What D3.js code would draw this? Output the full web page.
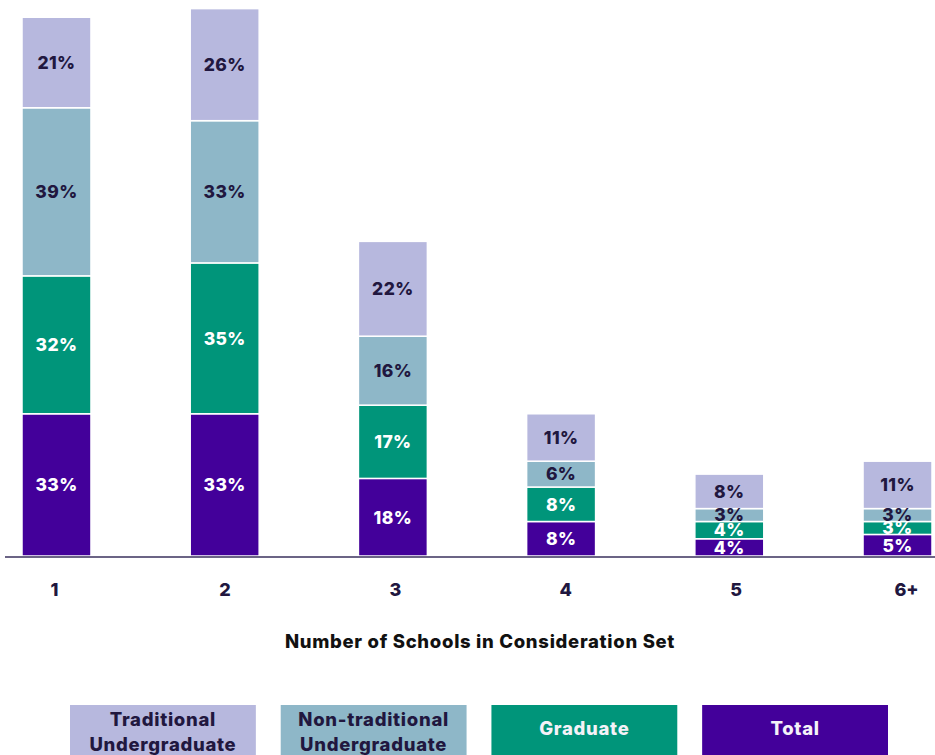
<!DOCTYPE html>
<html>
<head>
<meta charset="utf-8">
<script src="https://cdn.jsdelivr.net/npm/d3@7"></script>
<style>
  html, body { margin: 0; padding: 0; background: #ffffff; }
  svg { display: block; font-family: "Inter", "Noto Sans", sans-serif; }
</style>
</head>
<body>
<svg id="chart" width="935" height="755"></svg>
<script>
// Number of schools in each respondent's consideration set
const categories = ["1", "2", "3", "4", "5", "6+"];

// Stacked segments, bottom to top
const seriesNames = ["Total", "Graduate", "Non-traditional Undergraduate", "Traditional Undergraduate"];
const totalValues = [33, 33, 18, 8, 4, 5];
const graduateValues = [32, 35, 17, 8, 4, 3];
const nonTraditionalValues = [39, 33, 16, 6, 3, 3];
const traditionalValues = [21, 26, 22, 11, 8, 11];

const colors = {
  "Total": "#43009a",
  "Graduate": "#00957a",
  "Non-traditional Undergraduate": "#8eb7c8",
  "Traditional Undergraduate": "#b7b8de"
};
const textColors = {
  "Total": "#ffffff",
  "Graduate": "#ffffff",
  "Non-traditional Undergraduate": "#21173f",
  "Traditional Undergraduate": "#21173f"
};

const rows = categories.map((c, i) => ({
  category: c,
  "Total": totalValues[i],
  "Graduate": graduateValues[i],
  "Non-traditional Undergraduate": nonTraditionalValues[i],
  "Traditional Undergraduate": traditionalValues[i]
}));

const svg = d3.select("#chart");
const baseline = 556;

const x = d3.scaleBand()
  .domain(categories)
  .range([22, 932])
  .paddingInner(0.59)
  .paddingOuter(0);

const y = d3.scaleLinear()
  .domain([0, 129])
  .range([baseline, 0]);

const stack = d3.stack().keys(seriesNames);
const layers = stack(rows);

const groups = svg.append("g")
  .selectAll("g")
  .data(layers)
  .join("g")
  .attr("fill", d => colors[d.key]);

groups.selectAll("rect")
  .data(d => d.map(p => ({ key: d.key, p })))
  .join("rect")
  .attr("x", d => x(d.p.data.category))
  .attr("width", x.bandwidth())
  .attr("y", d => y(d.p[1]))
  .attr("height", d => y(d.p[0]) - y(d.p[1]))
  .attr("stroke", "#ffffff")
  .attr("stroke-width", 1.5);

// Value labels centred inside each segment
svg.append("g")
  .selectAll("g")
  .data(layers)
  .join("g")
  .selectAll("text")
  .data(d => d.map(p => ({ key: d.key, p })))
  .join("text")
  .attr("x", d => x(d.p.data.category) + x.bandwidth() / 2)
  .attr("y", d => (y(d.p[0]) + y(d.p[1])) / 2)
  .attr("dy", "0.36em")
  .attr("text-anchor", "middle")
  .attr("font-size", 17.5)
  .attr("font-weight", 800)
  .attr("letter-spacing", "0.4px")
  .attr("fill", d => textColors[d.key])
  .text(d => d.p.data[d.key] + "%");

// Baseline
svg.append("line")
  .attr("x1", 5).attr("x2", 935)
  .attr("y1", baseline + 1).attr("y2", baseline + 1)
  .attr("stroke", "#6b6485")
  .attr("stroke-width", 2);

// Category axis
const xLabels = d3.scalePoint()
  .domain(categories)
  .range([54, 906]);

const axis = svg.append("g")
  .attr("transform", `translate(0, ${baseline + 34})`)
  .call(d3.axisBottom(xLabels).tickSize(0).tickPadding(0));
axis.select(".domain").remove();
axis.selectAll("text")
  .attr("font-family", "Inter, sans-serif")
  .attr("font-size", 18)
  .attr("font-weight", 800)
  .attr("fill", "#21173f")
  .attr("dy", "0.36em")
  .attr("y", 0);

svg.append("text")
  .attr("x", 480)
  .attr("y", 641)
  .attr("dy", "0.36em")
  .attr("text-anchor", "middle")
  .attr("font-size", 18.5)
  .attr("font-weight", 800)
  .attr("letter-spacing", "0.7px")
  .attr("fill", "#111111")
  .text("Number of Schools in Consideration Set");

// Legend
const legendItems = [
  { key: "Traditional Undergraduate", lines: ["Traditional", "Undergraduate"] },
  { key: "Non-traditional Undergraduate", lines: ["Non-traditional", "Undergraduate"] },
  { key: "Graduate", lines: ["Graduate"] },
  { key: "Total", lines: ["Total"] }
];
const legendX = d3.scaleBand()
  .domain(legendItems.map(d => d.key))
  .range([70, 888])
  .paddingInner(0.118);

const legend = svg.append("g")
  .selectAll("g")
  .data(legendItems)
  .join("g")
  .attr("transform", d => `translate(${legendX(d.key)}, 705)`);

legend.append("rect")
  .attr("width", legendX.bandwidth())
  .attr("height", 60)
  .attr("fill", d => colors[d.key]);

legend.each(function(d) {
  const g = d3.select(this);
  const cx = legendX.bandwidth() / 2;
  const startY = d.lines.length === 1 ? 23 : 14;
  d.lines.forEach((line, i) => {
    g.append("text")
      .attr("x", cx)
      .attr("y", startY + i * 25)
      .attr("dy", "0.36em")
      .attr("text-anchor", "middle")
      .attr("font-size", 18.5)
      .attr("font-weight", 800)
      .attr("letter-spacing", "0.7px")
      .attr("fill", textColors[d.key] === "#ffffff" ? "#f4f2f8" : "#21173f")
      .text(line);
  });
});
</script>
</body>
</html>
